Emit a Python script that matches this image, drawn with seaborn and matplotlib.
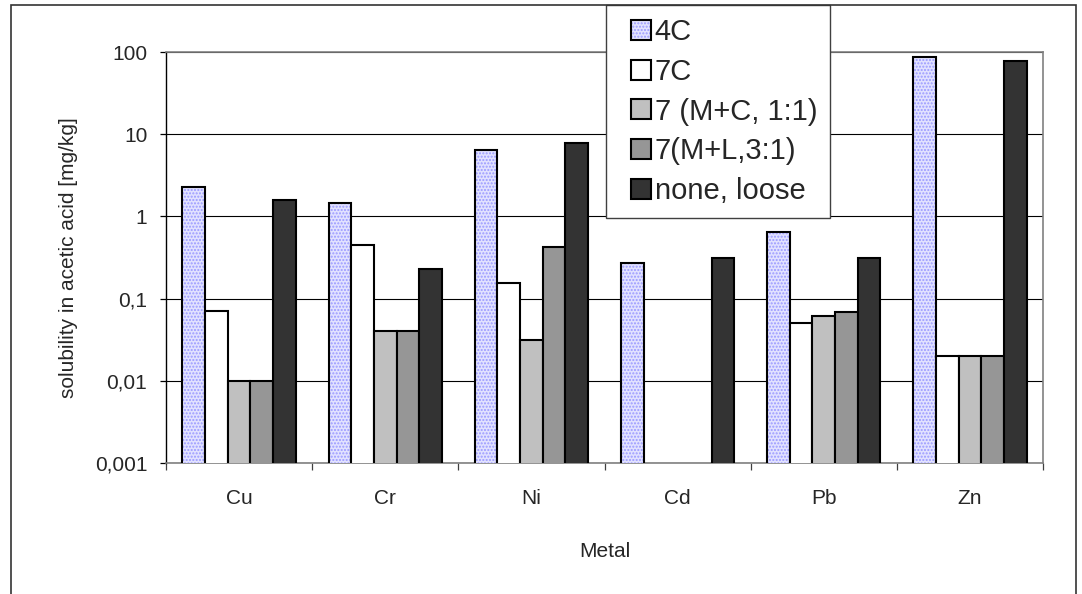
import numpy as np
import pandas as pd
import matplotlib
matplotlib.use("Agg")
import matplotlib.pyplot as plt
import seaborn as sns
from matplotlib.colors import to_rgba
from matplotlib.patches import Rectangle
from matplotlib.ticker import FixedLocator, NullLocator
from matplotlib.legend_handler import HandlerPatch

# ---------------- data ----------------
metals = ["Cu", "Cr", "Ni", "Cd", "Pb", "Zn"]
treatments = ["4C", "7C", "7 (M+C, 1:1)", "7(M+L,3:1)", "none, loose"]
val_4C = [2.3, 1.45, 6.4, 0.27, 0.65, 88]
val_7C = [0.07, 0.45, 0.155, np.nan, 0.05, 0.02]
val_7MC = [0.01, 0.04, 0.031, np.nan, 0.062, 0.02]
val_7ML = [0.01, 0.04, 0.42, np.nan, 0.069, 0.02]
val_none = [1.58, 0.23, 7.8, 0.31, 0.31, 77]
ytick_vals = [0.001, 0.01, 0.1, 1, 10, 100]
ytick_labels = ["0,001", "0,01", "0,1", "1", "10", "100"]

series = [val_4C, val_7C, val_7MC, val_7ML, val_none]
df = pd.DataFrame({
    "Metal": [m for _ in treatments for m in metals],
    "treatment": np.repeat(treatments, len(metals)),
    "value": np.concatenate([np.array(s, dtype=float) for s in series]),
})
df = df.dropna()

colors = ["#e2e2ff", "#ffffff", "#c0c0c0", "#969696", "#333333"]

# ---------------- style ----------------
sns.set_style("white")
plt.rcParams["font.family"] = ["Liberation Sans", "DejaVu Sans"]
plt.rcParams["hatch.linewidth"] = 1.0

fig = plt.figure(figsize=(10.82, 5.94), dpi=100)
ax = fig.add_axes([166 / 1082, 1 - 463 / 594, (1043 - 166) / 1082, (463 - 52) / 594])
ax.set_yscale("log")

sns.barplot(data=df, x="Metal", y="value", hue="treatment", order=metals,
            hue_order=treatments, palette=colors, width=0.775, gap=0,
            edgecolor="black", linewidth=1.5, saturation=1, legend=False,
            errorbar=None, ax=ax, zorder=3)

# dotted pattern for 4C
for p in ax.containers[0]:
    p.set_hatch(".....")
    p._hatch_color = to_rgba("#9a9aff")

ax.set_ylim(0.001, 100)
ax.set_xlim(-0.5, len(metals) - 0.5)
ax.yaxis.set_major_locator(FixedLocator(ytick_vals))
ax.set_yticklabels(ytick_labels)
ax.yaxis.set_minor_locator(NullLocator())
ax.grid(axis="y", color="black", linewidth=0.8, zorder=0)
ax.set_axisbelow(True)

# x ticks: labels at centers, tick marks at boundaries
ax.set_xticks(np.arange(len(metals)))
ax.set_xticks(np.arange(len(metals) + 1) - 0.5, minor=True)
ax.tick_params(axis="x", which="major", length=0, pad=19, labelsize=15)
ax.tick_params(axis="x", which="minor", length=5, width=0.9, color="#404040",
               direction="out", bottom=True)
ax.tick_params(axis="y", which="major", length=4.5, width=0.9, color="black",
               direction="out", left=True, pad=9, labelsize=15)

for s in ["top", "right", "bottom"]:
    ax.spines[s].set_color("#808080")
    ax.spines[s].set_linewidth(1.2)
ax.spines["left"].set_color("black")
ax.spines["left"].set_linewidth(1.0)

ax.set_xlabel("Metal", fontsize=15, labelpad=24)
ax.set_ylabel("solubility in acetic acid [mg/kg]", fontsize=15, labelpad=12)

# legend: small square swatch offset to the right within the handle box
LEG_FS = 21


def square_patch(legend, orig_handle, xdescent, ydescent, width, height, fontsize):
    side = height * 1.05
    return Rectangle((-xdescent + width - side, -ydescent + (height - side) / 2),
                     side, side)


handles = [c.patches[0] for c in ax.containers]
leg = ax.legend(handles, treatments, loc="lower left",
                bbox_to_anchor=(606 / 1082, 1 - 218 / 594),
                bbox_transform=fig.transFigure, borderaxespad=0,
                fontsize=LEG_FS, frameon=True, fancybox=False, shadow=False,
                framealpha=1, edgecolor="#404040", handlelength=1.1,
                handleheight=0.62, handletextpad=0.12, labelspacing=0.4,
                borderpad=0.45,
                handler_map={Rectangle: HandlerPatch(patch_func=square_patch)})
leg.get_frame().set_linewidth(1.0)
leg.set_zorder(10)

# figure border
fig.patches.append(Rectangle((11 / 1082, -0.02), 1065 / 1082, 1 - 5 / 594 + 0.02,
                             transform=fig.transFigure, fill=False,
                             edgecolor="#333333", linewidth=1.2, zorder=0))

fig.savefig("out.png", dpi=100)
